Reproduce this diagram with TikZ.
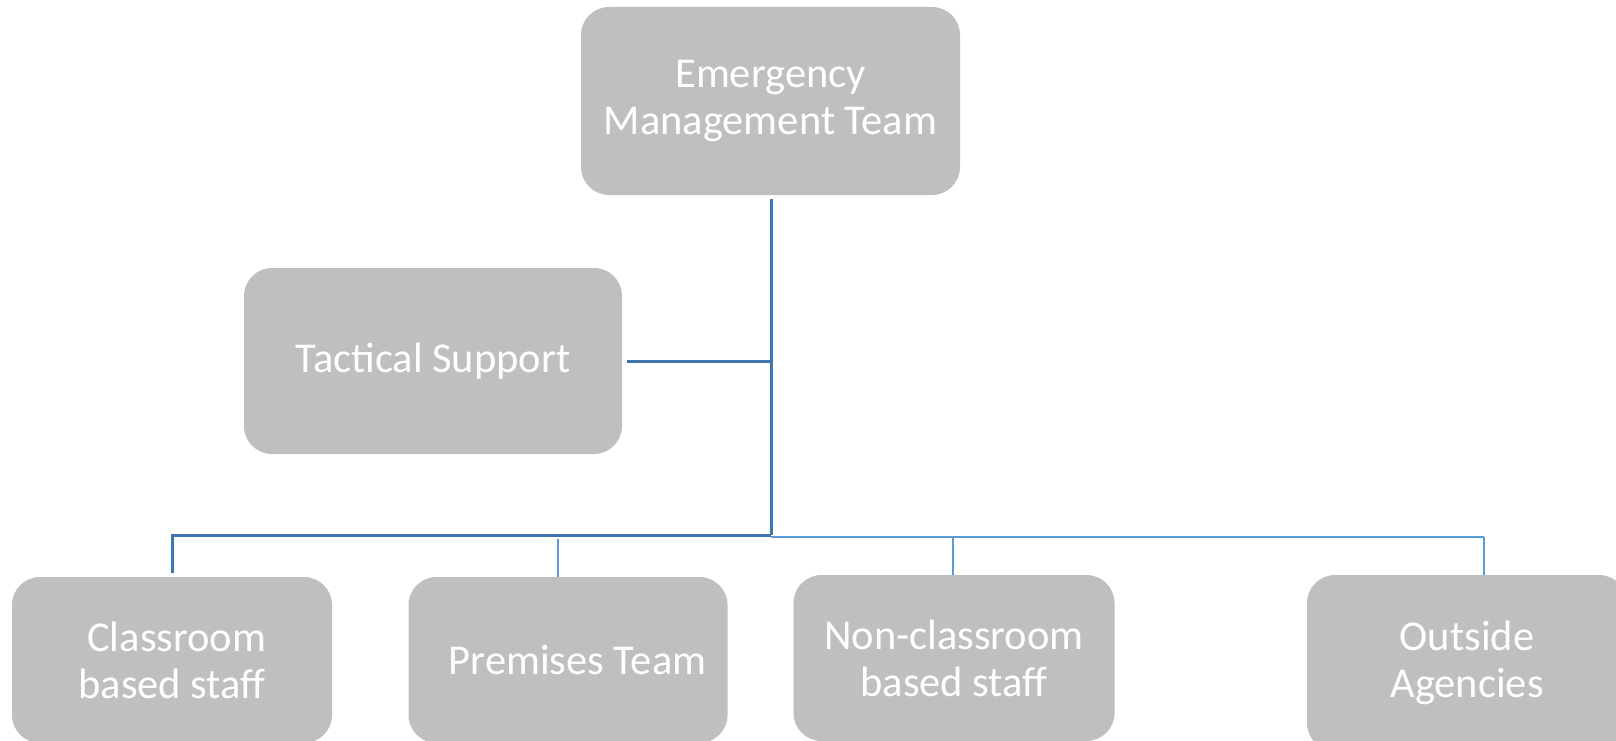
\documentclass[tikz,border=0pt]{standalone}
\usepackage{fontspec}
\setmainfont{Carlito}
\usetikzlibrary{calc}

\definecolor{boxgray}{RGB}{191,191,191}
\definecolor{trunkblue}{RGB}{62,117,175}
\definecolor{linkblue}{RGB}{91,155,213}

\tikzset{
  box/.style={fill=boxgray, draw=none, rounded corners=28pt, text=white,
    align=center, font=\fontsize{42.5}{47}\selectfont, inner sep=0pt},
  trunk/.style={draw=trunkblue, line width=3pt},
  link/.style={draw=linkblue, line width=2pt}
}

\begin{document}
\begin{tikzpicture}[x=1pt,y=-1pt]
\useasboundingbox (0,0) rectangle (1616,741);
% the boxes
\node[box, minimum width=379pt, minimum height=188pt] (emt) at (770.5,101) {Emergency\\Management Team};
\node[box, minimum width=378pt, minimum height=186pt] (tact) at (433,361) {Tactical Support};
%     bottom row
\node[box, minimum width=320pt, minimum height=166pt] (cls) at (172,660) {\ Classroom\\based staff};
\node[box, minimum width=319pt, minimum height=166pt] (prem) at (568,660) {\ \ Premises Team};
\node[box, minimum width=321pt, minimum height=166pt] (noncls) at (954,658) {Non-classroom\\based staff};
\node[box, minimum width=320pt, minimum height=176pt] (outs) at (1467,663) {Outside\\Agencies};
% junctions on the bus
\coordinate (hub) at (771,535);
\coordinate (hubR) at (771,537);
\coordinate (premtop) at (558,539);
\coordinate (nontop) at (953,537);
\coordinate (outtop) at (1484,537);
% the trunk and the tactical branch
\draw[trunk] (emt.south -| hub) ++(0,4) -- (hub);
\draw[trunk, shorten <=5pt] (tact.east) -- (tact.east -| hub);
%     left half of the bus
\draw[trunk] (hub) -- (hub -| cls.north) -- ([yshift=4pt]cls.north);
%     right half of the bus
\draw[link] (hubR) -- (outtop);
\draw[link] (premtop) -- (premtop |- prem.north);
\draw[link] (nontop) -- (nontop |- noncls.north);
\draw[link] (outtop) -- (outtop |- outs.north);
\end{tikzpicture}
\end{document}
